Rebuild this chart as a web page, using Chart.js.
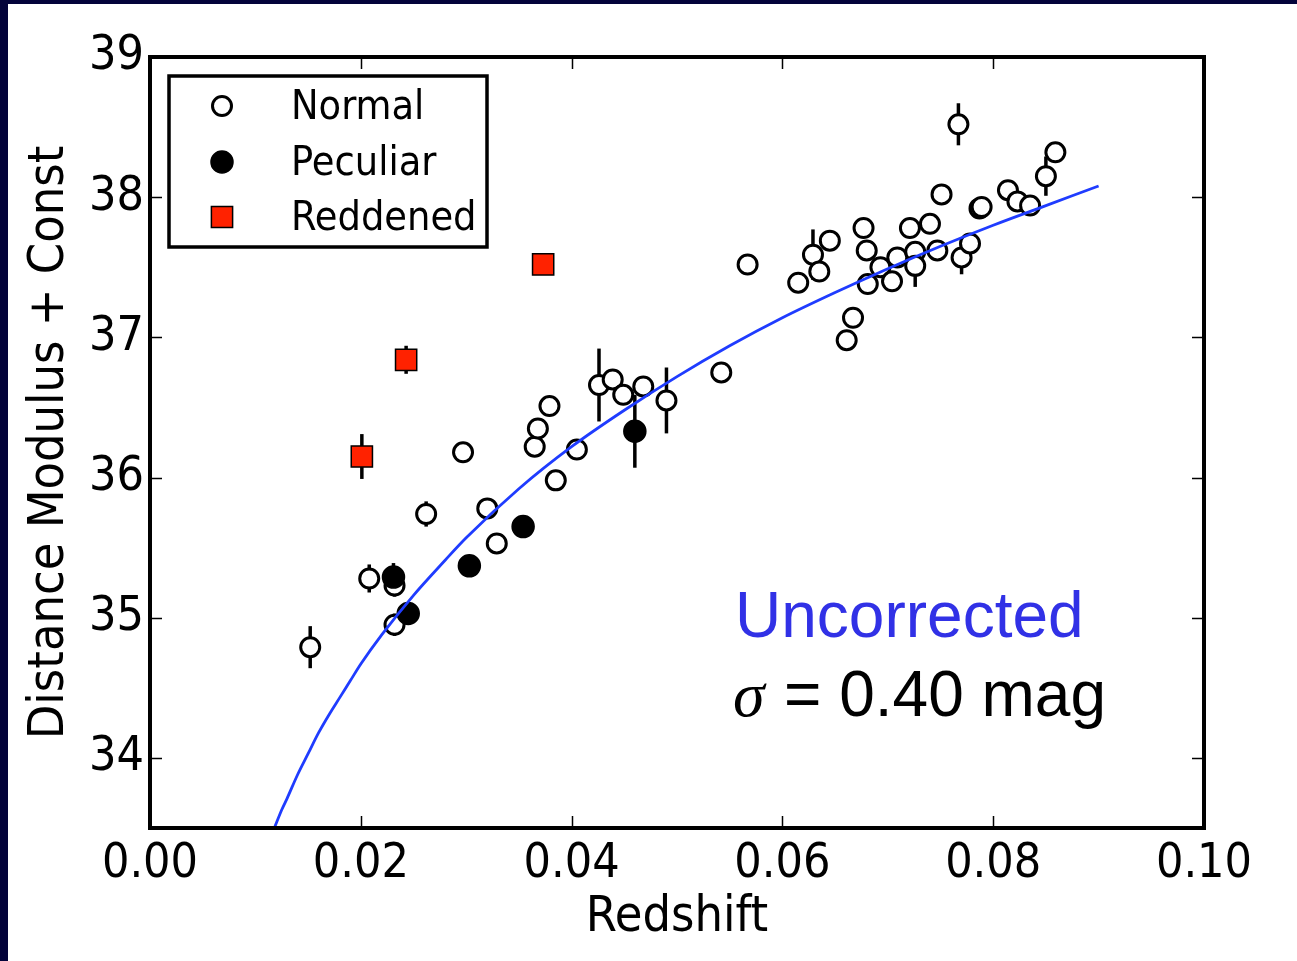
<!DOCTYPE html>
<html>
<head>
<meta charset="utf-8">
<script src="https://cdn.jsdelivr.net/npm/chart.js@4.4.1/dist/chart.umd.min.js"></script>
<style>
  html, body { margin: 0; padding: 0; background: #fff; overflow: hidden; }
  canvas { display: block; }
</style>
</head>
<body>
<canvas id="chart" width="1297" height="961"></canvas>
<script>
// tick values
const xTicks = [0, 0.02, 0.04, 0.06, 0.08, 0.10];
const yTicks = [34, 35, 36, 37, 38, 39];

// Normal SNe: redshift, distance modulus, error
const normalZ = [0.0152, 0.0208, 0.0232, 0.0232, 0.0262, 0.0297, 0.0320, 0.0329, 0.0365, 0.0368,
                 0.0379, 0.0385, 0.0405, 0.0426, 0.0439, 0.0449, 0.0468, 0.0490, 0.0542, 0.0567,
                 0.0615, 0.0629, 0.0635, 0.0645, 0.0661, 0.0667, 0.0677, 0.0680, 0.0681, 0.0693,
                 0.0704, 0.0709, 0.0721, 0.0726, 0.0726, 0.0740, 0.0747, 0.0751, 0.0767, 0.0770,
                 0.0778, 0.0787, 0.0789, 0.0814, 0.0823, 0.0835, 0.0850, 0.0859];
const normalMu = [34.79, 35.28, 35.23, 34.95, 35.74, 36.18, 35.78, 35.53, 36.22, 36.35,
                  36.51, 35.98, 36.20, 36.66, 36.70, 36.59, 36.65, 36.55, 36.75, 37.52,
                  37.39, 37.59, 37.47, 37.69, 36.98, 37.14, 37.78, 37.62, 37.38, 37.50,
                  37.40, 37.57, 37.78, 37.61, 37.51, 37.81, 37.62, 38.02, 38.52, 37.57,
                  37.67, 37.92, 37.93, 38.05, 37.97, 37.94, 38.15, 38.32];
const normalErr = [0.15, 0.10, 0.08, 0.08, 0.09, 0.05, 0, 0, 0, 0,
                   0, 0, 0, 0.26, 0, 0, 0, 0.235, 0, 0,
                   0, 0.18, 0, 0, 0, 0, 0, 0, 0, 0,
                   0, 0, 0, 0, 0.15, 0, 0, 0, 0.15, 0.12,
                   0, 0, 0, 0, 0, 0, 0.14, 0];

// Peculiar SNe
const peculiarZ = [0.0231, 0.0245, 0.0303, 0.0354, 0.0460];
const peculiarMu = [35.29, 35.03, 35.37, 35.65, 36.33];
const peculiarErr = [0.10, 0, 0, 0, 0.26];

// Reddened SNe
const reddenedZ = [0.0201, 0.0243, 0.0373];
const reddenedMu = [36.15, 36.84, 37.52];
const reddenedErr = [0.16, 0.10, 0.04];

// Hubble line
const curveZ = [0.0118, 0.0125, 0.013, 0.014, 0.015, 0.016, 0.017, 0.018, 0.019, 0.020,
                0.022, 0.025, 0.028, 0.030, 0.035, 0.040, 0.045, 0.050, 0.055, 0.060,
                0.065, 0.070, 0.075, 0.080, 0.085, 0.090];
const curveMu = [33.50, 33.63, 33.71, 33.88, 34.03, 34.18, 34.31, 34.43, 34.55, 34.67,
                 34.88, 35.16, 35.41, 35.57, 35.92, 36.22, 36.48, 36.72, 36.94, 37.14,
                 37.32, 37.49, 37.65, 37.80, 37.94, 38.08];

const toPoints = (xs, ys) => xs.map((x, i) => ({ x: x, y: ys[i] }));

const FONT = "'DejaVu Sans Condensed', 'DejaVu Sans', sans-serif";

const errorBars = {
    id: 'errorBars',
    beforeDatasetsDraw(chart) {
        const ctx = chart.ctx;
        const xs = chart.scales.x, ys = chart.scales.y;
        ctx.save();
        ctx.strokeStyle = '#000';
        ctx.lineWidth = 3.5;
        chart.data.datasets.forEach(ds => {
            if (!ds.errors) return;
            ds.data.forEach((p, i) => {
                const e = ds.errors[i];
                if (!e) return;
                const px = xs.getPixelForValue(p.x);
                ctx.beginPath();
                ctx.moveTo(px, ys.getPixelForValue(p.y - e));
                ctx.lineTo(px, ys.getPixelForValue(p.y + e));
                ctx.stroke();
            });
        });
        ctx.restore();
    }
};

const frameAndExtras = {
    id: 'frameAndExtras',
    beforeDraw(chart) {
        const ctx = chart.ctx;
        ctx.save();
        ctx.fillStyle = '#fff';
        ctx.fillRect(0, 0, chart.width, chart.height);
        ctx.fillStyle = '#03033a';
        ctx.fillRect(0, 0, chart.width, 4);
        ctx.fillRect(0, 0, 8, chart.height);
        ctx.restore();
    },
    afterDraw(chart) {
        const ctx = chart.ctx;
        const a = chart.chartArea;
        const xs = chart.scales.x, ys = chart.scales.y;
        ctx.save();
        // inward ticks on all four sides
        ctx.strokeStyle = '#000';
        ctx.lineWidth = 1.5;
        const tl = 12;
        xTicks.forEach(v => {
            const px = Math.round(xs.getPixelForValue(v)) + 0.5;
            ctx.beginPath();
            ctx.moveTo(px, a.bottom); ctx.lineTo(px, a.bottom - tl);
            ctx.moveTo(px, a.top); ctx.lineTo(px, a.top + tl);
            ctx.stroke();
        });
        yTicks.forEach(v => {
            const py = Math.round(ys.getPixelForValue(v)) + 0.5;
            ctx.beginPath();
            ctx.moveTo(a.left, py); ctx.lineTo(a.left + tl, py);
            ctx.moveTo(a.right, py); ctx.lineTo(a.right - tl, py);
            ctx.stroke();
        });
        // frame
        ctx.lineWidth = 4;
        ctx.strokeRect(a.left, a.top, a.right - a.left, a.bottom - a.top);

        // legend
        const lx = 169, ly = 76, lw = 318, lh = 171;
        ctx.fillStyle = '#fff';
        ctx.fillRect(lx, ly, lw, lh);
        ctx.lineWidth = 3.5;
        ctx.strokeRect(lx, ly, lw, lh);
        const rows = [106, 162, 217];
        const mx = 222, tx = 291;
        chart.data.datasets.filter(d => d.legendLabel).forEach((d, i) => {
            const y = rows[i];
            ctx.beginPath();
            ctx.lineWidth = d.borderWidth;
            ctx.strokeStyle = d.borderColor;
            ctx.fillStyle = d.backgroundColor;
            if (d.pointStyle === 'rect') {
                const s = d.pointRadius * Math.SQRT1_2;
                ctx.rect(mx - s, y - s, 2 * s, 2 * s);
            } else {
                ctx.arc(mx, y, d.pointRadius, 0, Math.PI * 2);
            }
            ctx.fill();
            ctx.stroke();
            ctx.fillStyle = '#000';
            ctx.font = "41px " + FONT;
            ctx.textBaseline = 'middle';
            ctx.textAlign = 'left';
            ctx.fillText(d.legendLabel, tx, y + 2);
        });

        // annotation
        ctx.textBaseline = 'alphabetic';
        ctx.fillStyle = '#3131e6';
        ctx.font = "64px 'Liberation Sans', Arial, sans-serif";
        ctx.fillText('Uncorrected', 735, 637);
        ctx.fillStyle = '#000';
        ctx.font = "italic 64px 'Liberation Serif', 'DejaVu Serif', serif";
        ctx.fillText('σ', 733, 716);
        ctx.font = "64px 'Liberation Sans', Arial, sans-serif";
        ctx.fillText('= 0.40 mag', 784, 716);
        ctx.restore();
    }
};

new Chart(document.getElementById('chart'), {
    type: 'scatter',
    data: {
        datasets: [
            {
                label: 'Normal',
                legendLabel: 'Normal',
                data: toPoints(normalZ, normalMu),
                errors: normalErr,
                pointStyle: 'circle',
                pointRadius: 9.5,
                borderWidth: 3,
                borderColor: '#000',
                backgroundColor: '#fff',
                order: 3
            },
            {
                label: 'Peculiar',
                legendLabel: 'Peculiar',
                data: toPoints(peculiarZ, peculiarMu),
                errors: peculiarErr,
                pointStyle: 'circle',
                pointRadius: 11,
                borderWidth: 1.5,
                borderColor: '#000',
                backgroundColor: '#000',
                order: 2
            },
            {
                label: 'Reddened',
                legendLabel: 'Reddened',
                data: toPoints(reddenedZ, reddenedMu),
                errors: reddenedErr,
                pointStyle: 'rect',
                pointRadius: 15,
                borderWidth: 1.5,
                borderColor: '#000',
                backgroundColor: '#ff2200',
                order: 1
            },
            {
                label: 'Fit',
                data: toPoints(curveZ, curveMu),
                showLine: true,
                pointRadius: 0,
                borderColor: '#1f3cff',
                borderWidth: 2.8,
                cubicInterpolationMode: 'monotone',
                order: 0
            }
        ]
    },
    options: {
        responsive: false,
        animation: false,
        devicePixelRatio: 1,
        layout: { padding: { left: 0, top: 57, right: 93, bottom: 0 } },
        plugins: {
            legend: { display: false },
            tooltip: { enabled: false }
        },
        scales: {
            x: {
                type: 'linear',
                min: 0,
                max: 0.1,
                afterBuildTicks: s => { s.ticks = xTicks.map(v => ({ value: v })); },
                afterFit: s => { s.height = 133; },
                grid: { display: false, drawTicks: false },
                border: { display: false },
                ticks: {
                    color: '#000',
                    padding: 8,
                    maxRotation: 0,
                    font: { family: FONT, size: 48 },
                    callback: v => v.toFixed(2)
                },
                title: {
                    display: true,
                    text: 'Redshift',
                    color: '#000',
                    font: { family: FONT, size: 50, lineHeight: 1.2 },
                    padding: { top: 0, bottom: 13 }
                }
            },
            y: {
                type: 'linear',
                min: 33.5,
                max: 39,
                afterBuildTicks: s => { s.ticks = yTicks.map(v => ({ value: v })); },
                afterFit: s => { s.width = 150; },
                grid: { display: false, drawTicks: false },
                border: { display: false },
                ticks: {
                    color: '#000',
                    padding: 6,
                    font: { family: FONT, size: 48 },
                    callback: v => String(v)
                },
                title: {
                    display: true,
                    text: 'Distance Modulus + Const',
                    color: '#000',
                    font: { family: FONT, size: 50, lineHeight: 1.2 },
                    padding: { top: 20, bottom: 0 }
                }
            }
        }
    },
    plugins: [errorBars, frameAndExtras]
});
</script>
</body>
</html>
